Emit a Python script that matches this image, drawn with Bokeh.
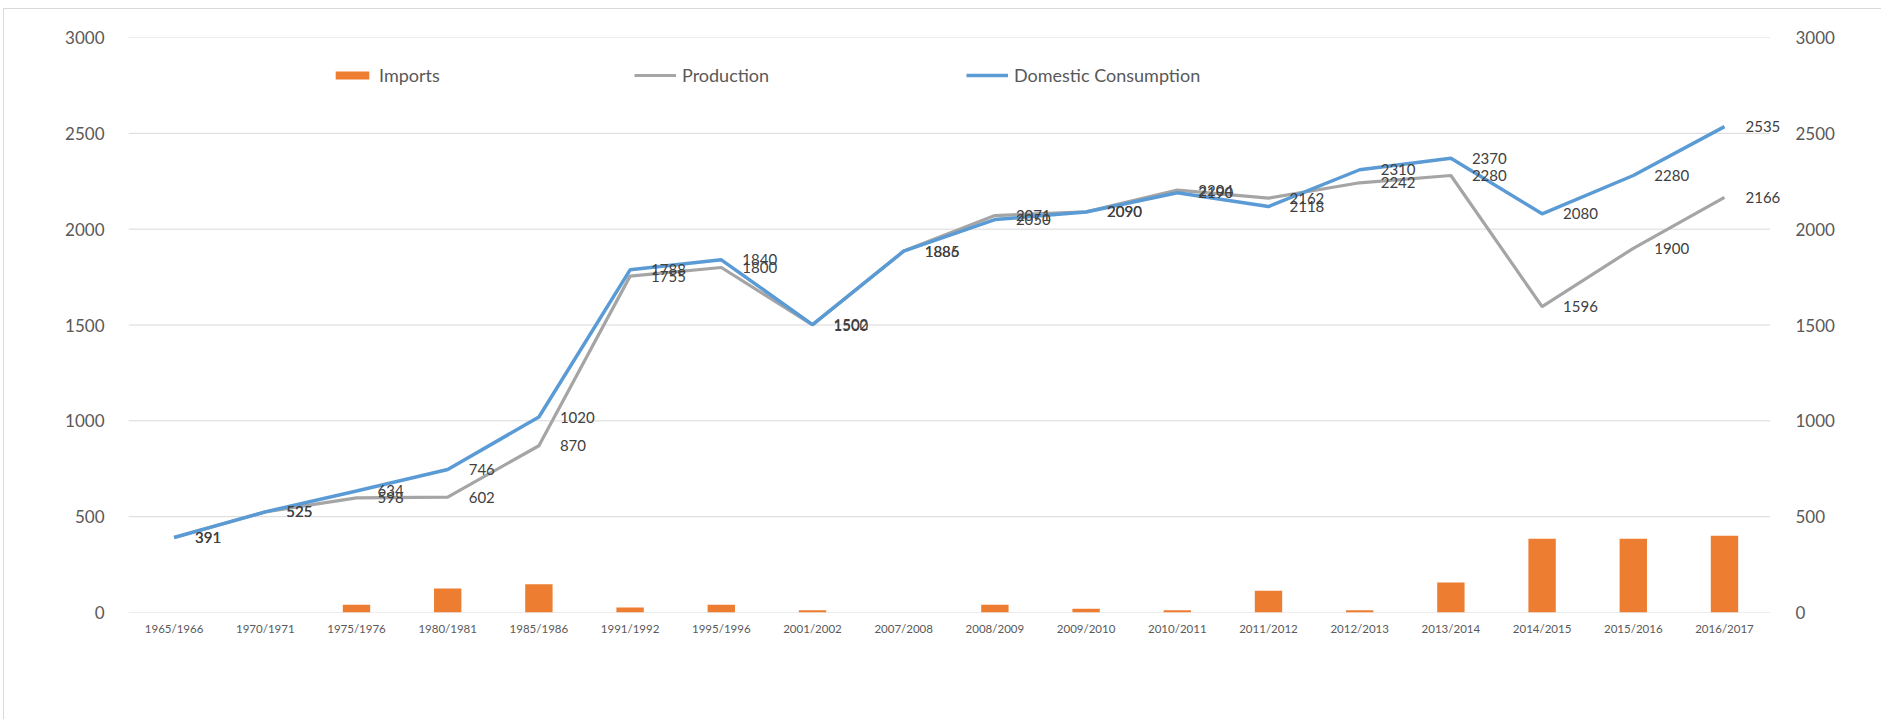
from bokeh.plotting import figure
from bokeh.models import (Range1d, LinearAxis, FixedTicker, Legend,
                          LegendItem, ColumnDataSource, LabelSet)
from bokeh.core.properties import value
from bokeh.embed import file_html
from bokeh.resources import INLINE

# ---------------- data ----------------
seasons = ["1965/1966", "1970/1971", "1975/1976", "1980/1981", "1985/1986",
           "1991/1992", "1995/1996", "2001/2002", "2007/2008", "2008/2009",
           "2009/2010", "2010/2011", "2011/2012", "2012/2013", "2013/2014",
           "2014/2015", "2015/2016", "2016/2017"]
imports = [0, 0, 40, 125, 148, 26, 40, 12, 0, 40, 19, 12, 113, 12, 156, 385, 385, 400]
production = [391, 525, 598, 602, 870, 1755, 1800, 1500, 1886, 2071, 2090, 2204,
              2162, 2242, 2280, 1596, 1900, 2166]
consumption = [391, 525, 634, 746, 1020, 1788, 1840, 1502, 1885, 2050, 2090, 2190,
               2118, 2310, 2370, 2080, 2280, 2535]
y_ticks = [0, 500, 1000, 1500, 2000, 2500, 3000]

ORANGE = "#ED7D31"
GRAY = "#A5A5A5"
BLUE = "#5B9BD5"
FONT = "Lato"

n = len(seasons)
pos = list(range(1, n + 1))          # category slots 1..n

src = ColumnDataSource(dict(
    pos=pos, season=seasons, imports=imports, production=production,
    consumption=consumption,
    prod_lbl=[str(v) for v in production], cons_lbl=[str(v) for v in consumption]))

W, H = 1878, 711
x_end = n + 0.5 + 0.147   # small room on the right so the last labels are not cut
p = figure(x_range=Range1d(0.5, x_end), y_range=Range1d(0, 3000), width=W, height=H,
           output_backend="svg", toolbar_location=None,
           min_border_left=124, min_border_right=W - 1779,
           min_border_top=28, min_border_bottom=H - 603)
p.styles = {"margin-left": "3px", "margin-top": "8px",
            "border-left": "1px solid #d9d9d9", "border-top": "1px solid #d9d9d9"}
p.outline_line_color = None
p.background_fill_color = "white"
p.border_fill_color = "white"
p.xgrid.grid_line_color = None
p.ygrid.grid_line_color = None

# horizontal gridlines spanning exactly the category area
p.segment(x0=[0.5] * len(y_ticks), x1=[n + 0.5] * len(y_ticks),
          y0=y_ticks, y1=y_ticks, line_color="#D9D9D9", line_width=1)

# axes
p.yaxis.ticker = FixedTicker(ticks=y_ticks)
for ax in p.yaxis:
    ax.axis_line_color = None
    ax.major_tick_line_color = None
    ax.minor_tick_line_color = None
    ax.major_label_standoff = 18
    ax.major_label_text_font = FONT
    ax.major_label_text_font_size = "17px"
    ax.major_label_text_color = "#595959"

p.extra_y_ranges = {"sec": Range1d(0, 3000)}
rax = LinearAxis(y_range_name="sec", ticker=FixedTicker(ticks=y_ticks),
                 axis_line_color=None, major_tick_line_color=None,
                 minor_tick_line_color=None, major_label_standoff=6,
                 major_label_text_font=FONT, major_label_text_font_size="17px",
                 major_label_text_color="#595959")
p.add_layout(rax, "right")

p.xaxis.ticker = FixedTicker(ticks=pos)
p.xaxis.major_label_overrides = {k: s for k, s in zip(pos, seasons)}
p.xaxis.axis_line_color = None
p.xaxis.major_tick_line_color = None
p.xaxis.minor_tick_line_color = None
p.xaxis.major_label_standoff = 3
p.xaxis.major_label_text_font = FONT
p.xaxis.major_label_text_font_size = "11.5px"
p.xaxis.major_label_text_color = "#595959"

# glyphs
bars = p.vbar(x="pos", top="imports", width=0.3, source=src,
              fill_color=ORANGE, line_color=None, y_range_name="sec")
lprod = p.line(x="pos", y="production", source=src, line_color=GRAY, line_width=3.2)
lcons = p.line(x="pos", y="consumption", source=src, line_color=BLUE, line_width=3.5)

lab_kw = dict(x_offset=21, text_baseline="middle", text_align="left",
              text_font=value(FONT), text_font_size=value("15px"), text_color="#404040",
              source=src)
p.add_layout(LabelSet(x="pos", y="production", text="prod_lbl", **lab_kw))
p.add_layout(LabelSet(x="pos", y="consumption", text="cons_lbl", **lab_kw))

# legends (three single-item legends placed like the original)
frame_h = 575
leg_bottom = frame_h - 49
for label, rend, xpos in [("Imports", bars, 203), ("Production", lprod, 506),
                          ("Domestic Consumption", lcons, 838)]:
    lg = Legend(items=[LegendItem(label=label, renderers=[rend])],
                orientation="horizontal", location=(xpos, leg_bottom),
                glyph_width=42, glyph_height=10, label_standoff=6,
                label_height=20, padding=0, margin=0, spacing=0,
                border_line_color=None, background_fill_alpha=0,
                label_text_font=FONT, label_text_font_size="18px",
                label_text_color="#595959")
    p.add_layout(lg)

open("out.html", "w").write(file_html(p, INLINE))
